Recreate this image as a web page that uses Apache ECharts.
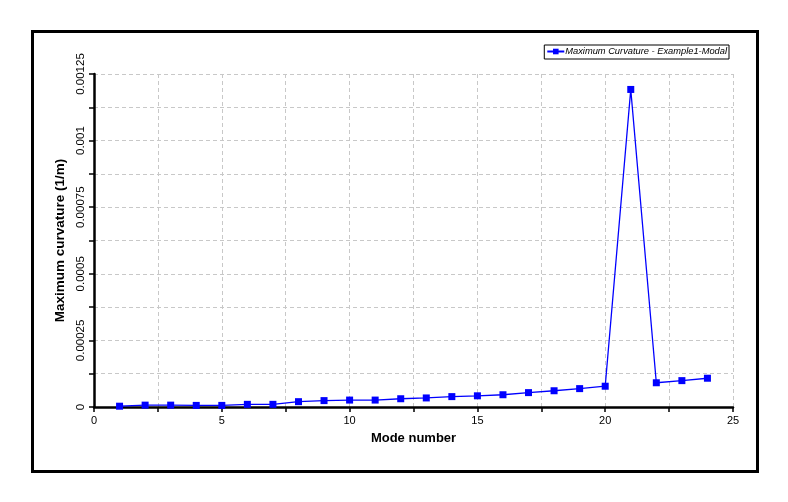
<!DOCTYPE html>
<html>
<head>
<meta charset="utf-8">
<script src="https://cdn.jsdelivr.net/npm/echarts@6/dist/echarts.min.js"></script>
<style>
html,body{margin:0;padding:0;background:#fff;}
#chart{width:788px;height:502px;}
</style>
</head>
<body>
<div id="chart"></div>
<script>
var modes = [1,2,3,4,5,6,7,8,9,10,11,12,13,14,15,16,17,18,19,20,21,22,23,24];
var curvature = [0.000003,0.000007,0.000007,0.000006,0.000006,0.00001,0.00001,0.00002,0.000024,0.000026,0.000026,0.000031,0.000034,0.000039,0.000042,0.000046,0.000054,0.000061,0.000069,0.000078,0.001192,0.000091,0.000099,0.000108];
var seriesName = 'Maximum Curvature - Example1-Modal';
var xTitle = 'Mode number';
var yTitle = 'Maximum curvature (1/m)';
var yTickLabels = {'0':'0','0.00025':'0.00025','0.0005':'0.0005','0.00075':'0.00075','0.001':'0.001','0.00125':'0.00125'};

var data = modes.map(function(m,i){return [m, curvature[i]];});
var chart = echarts.init(document.getElementById('chart'));
var font = 'Liberation Sans, Arial, sans-serif';
chart.setOption({
  animation:false,
  backgroundColor:'#fff',
  graphic:[{type:'rect',shape:{x:32.5,y:31.5,width:725,height:440},style:{fill:null,stroke:'#000',lineWidth:3},silent:true}],
  legend:{
    right:59, top:45, orient:'horizontal',
    backgroundColor:'#fff', borderColor:'#000', borderWidth:1,
    padding:[2,2,3,2], itemWidth:17, itemHeight:7, itemGap:2,
    textStyle:{fontFamily:font, fontStyle:'italic', fontSize:9.3, color:'#000', padding:[0,0,0,-4]},
    data:[{name:seriesName}]
  },
  grid:{left:94, right:55, top:74, bottom:95, containLabel:false},
  xAxis:{
    type:'value', min:0, max:25, interval:2.5,
    name:xTitle, nameLocation:'middle', nameGap:25,
    nameTextStyle:{fontFamily:font, fontWeight:'bold', fontSize:13, color:'#000'},
    axisLine:{onZero:false, lineStyle:{color:'#000', width:2.5}},
    axisTick:{length:5, lineStyle:{color:'#000', width:1.5}},
    axisLabel:{margin:8, fontFamily:font, fontSize:11, color:'#000',
      formatter:function(v){return (Math.abs(v/5-Math.round(v/5))<1e-9)?String(v):'';}},
    splitLine:{show:true, lineStyle:{color:'#c8c8c8', type:[4,3], width:1}}
  },
  yAxis:{
    type:'value', min:0, max:0.00125, interval:0.000125,
    name:yTitle, nameLocation:'middle', nameGap:20,
    nameTextStyle:{fontFamily:font, fontWeight:'bold', fontSize:13.5, color:'#000'},
    axisLine:{show:true, lineStyle:{color:'#000', width:2.5}},
    axisTick:{show:true, length:5, lineStyle:{color:'#000', width:1.5}},
    axisLabel:{rotate:90, margin:7, fontFamily:font, fontSize:11.5, color:'#000',
      formatter:function(v){var k=String(parseFloat(v.toPrecision(6)));return yTickLabels.hasOwnProperty(k)?yTickLabels[k]:'';}},
    splitLine:{show:true, lineStyle:{color:'#c8c8c8', type:[4,3], width:1}}
  },
  series:[{
    name:seriesName, type:'line', data:data,
    symbol:'rect', symbolSize:7, showAllSymbol:true,
    lineStyle:{color:'#0000ff', width:1.3},
    itemStyle:{color:'#0000ff'},
    emphasis:{disabled:true}
  }]
});
</script>
</body>
</html>
